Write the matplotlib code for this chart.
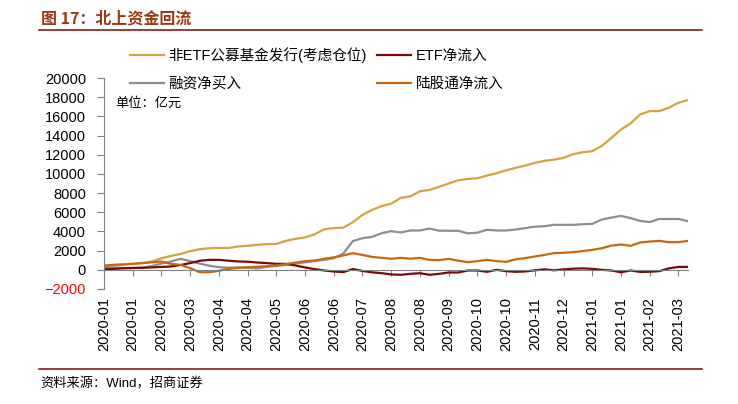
import matplotlib
matplotlib.use("Agg")
import matplotlib.pyplot as plt
from matplotlib.lines import Line2D

plt.rcParams['font.family'] = ['Liberation Sans', 'Noto Sans CJK SC', 'DejaVu Sans']

# weekly points, Jan 2020 - Mar 2021 (亿元)
fund_issue = [400, 480, 560, 620, 700, 870, 1200, 1450, 1650, 1950,
              2150, 2250, 2280, 2280, 2430, 2500, 2600, 2680, 2700, 3020,
              3230, 3380, 3700, 4230, 4350, 4400, 4970, 5730, 6250, 6650,
              6900, 7500, 7660, 8190, 8330, 8650, 9000, 9340, 9480, 9540,
              9830, 10070, 10380, 10630, 10870, 11150, 11360, 11490, 11670, 12050,
              12260, 12370, 12920, 13750, 14630, 15270, 16200, 16550, 16550, 16900,
              17420, 17700]
etf_flow = [70, 100, 150, 200, 210, 250, 300, 350, 500, 700,
            940, 1040, 1040, 950, 870, 850, 760, 700, 620, 620,
            450, 250, 70, -70, -170, -240, 80, -120, -260, -350,
            -480, -520, -420, -350, -520, -420, -280, -280, -70, -70,
            -210, 0, -140, -210, -170, -50, 50, -50, 50, 120,
            150, 100, 0, -70, -260, -70, -220, -200, -140, 150,
            300, 310]
margin_buy = [300, 250, 200, 180, 220, 400, 650, 870, 1150, 900,
              650, 430, 280, 220, 250, 200, 150, 300, 420, 520,
              650, 780, 920, 1050, 1200, 1700, 3000, 3300, 3430, 3820,
              4030, 3900, 4100, 4100, 4300, 4080, 4070, 4070, 3800, 3870,
              4180, 4100, 4100, 4200, 4350, 4500, 4550, 4690, 4690, 4690,
              4750, 4790, 5250, 5450, 5620, 5400, 5100, 4980, 5300, 5300,
              5300, 5070]
northbound = [450, 520, 560, 620, 700, 780, 870, 620, 520, 170,
              -250, -250, -100, 100, 200, 280, 320, 380, 450, 600,
              750, 900, 970, 1150, 1300, 1500, 1740, 1550, 1350, 1250,
              1150, 1250, 1150, 1250, 1030, 1010, 1140, 950, 800, 900,
              1040, 900, 830, 1100, 1220, 1390, 1550, 1740, 1780, 1840,
              1950, 2080, 2250, 2530, 2640, 2500, 2850, 2950, 3020, 2880,
              2880, 3020]
tick_labels = ['2020-01', '2020-01', '2020-02', '2020-03', '2020-04', '2020-04',
               '2020-05', '2020-06', '2020-06', '2020-07', '2020-08', '2020-08',
               '2020-09', '2020-10', '2020-10', '2020-11', '2020-12', '2021-01',
               '2021-01', '2021-02', '2021-03']

x = list(range(len(fund_issue)))
tick_pos = list(range(0, 61, 3))

fig = plt.figure(figsize=(7.38, 4.04), dpi=100)
W, H = 738, 404
ax = fig.add_axes([104 / W, (H - 289) / H, (688 - 104) / W, (289 - 78) / H])

lw = 1.6
ax.plot(x, fund_issue, color='#D1A441', lw=lw, label='非ETF公募基金发行(考虑仓位)')
ax.plot(x, margin_buy, color='#8E8E8E', lw=lw, label='融资净买入')
ax.plot(x, etf_flow, color='#7A0A0A', lw=lw, label='ETF净流入')
ax.plot(x, northbound, color='#C9670E', lw=lw, label='陆股通净流入')

ax.set_xlim(0, 61)
ax.set_ylim(-2000, 20000)
ax.set_yticks(range(-2000, 20001, 2000))
ax.tick_params(axis='y', direction='out', length=5, color='#808080',
               labelsize=10.5, pad=8)
ax.get_yticklabels()[0].set_color('red')

for s in ['top', 'right']:
    ax.spines[s].set_visible(False)
ax.spines['left'].set_color('#808080')
ax.spines['bottom'].set_color('#808080')
ax.spines['bottom'].set_position(('data', 0))
ax.set_xticks(tick_pos)
ax.tick_params(axis='x', direction='out', length=4, color='#808080', labelbottom=False)

sec = ax.secondary_xaxis('bottom')
sec.set_xticks(tick_pos, labels=tick_labels)
sec.tick_params(length=0, pad=6, labelsize=10.5, labelrotation=90)
sec.spines['bottom'].set_visible(False)

fig.legend(loc='upper left', bbox_to_anchor=(130 / W, 1 - 47 / H), ncol=2,
           frameon=False, fontsize=10.5, handlelength=2.3, handletextpad=0.35,
           columnspacing=0.7, labelspacing=0.95, borderpad=0, borderaxespad=0)

fig.text(115 / W, 1 - 103 / H, '单位：亿元', fontsize=9.5, va='center', ha='left')

# title and rules
fig.text(41 / W, 1 - 18 / H, '图 17：北上资金回流', fontsize=11.5, fontweight='bold',
         color='#9A3A12', va='center', ha='left',
         family=['Noto Sans CJK SC', 'DejaVu Sans'])
fig.add_artist(Line2D([39 / W, 702 / W], [1 - 30 / H, 1 - 30 / H], color='#8B1A1A', lw=1.2))
fig.add_artist(Line2D([39 / W, 702 / W], [1 - 369 / H, 1 - 369 / H], color='#8B1A1A', lw=1.2))
fig.text(40 / W, 1 - 384 / H, '资料来源：Wind，招商证券', fontsize=9.5, va='center', ha='left')

fig.savefig('out.png', dpi=100)
